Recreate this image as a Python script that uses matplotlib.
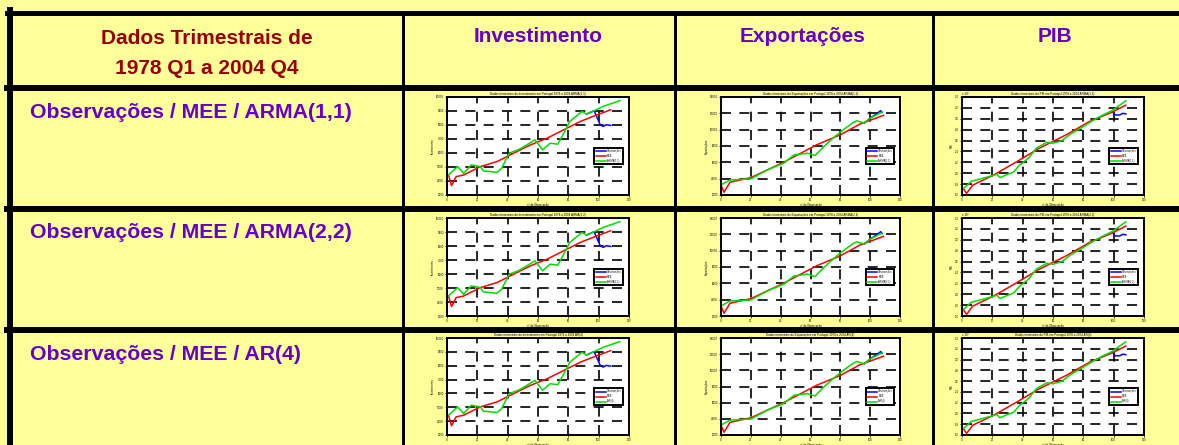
import matplotlib.pyplot as plt
from matplotlib.lines import Line2D

plt.rcParams['font.family'] = ['Liberation Sans', 'DejaVu Sans']

W, H = 1179, 445
BG = '#ffff99'
RED_TXT = '#990000'
PURPLE = '#6600cc'

header_left = ["Dados Trimestrais de", "1978 Q1 a 2004 Q4"]
col_titles = ["Investimento", "Exportações", "PIB"]
row_titles = ["Observações / MEE / ARMA(1,1)",
              "Observações / MEE / ARMA(2,2)",
              "Observações / MEE / AR(4)"]
models = ["ARMA(1,1)", "ARMA(2,2)", "AR(4)"]

# Investimento
inv_x_green = [1, 7, 11, 16, 22, 24, 33, 36, 41, 47, 52, 58, 63, 68, 73, 77, 81, 89, 92, 97, 103, 114]
inv_green = [4430, 5030, 4550, 5150, 5030, 4720, 4620, 4910, 5990, 6230, 6540, 6940, 6230, 6700,
             6630, 7420, 8260, 8970, 8780, 9020, 9330, 9740]
inv_x_red = [1, 3, 6, 11, 22, 33, 44, 55, 66, 77, 88, 99, 108]
inv_red = [4430, 3670, 4310, 4430, 5030, 5390, 5990, 6580, 7060, 7660, 8260, 8730, 9090]
inv_x_blue = [92, 97, 101, 103, 105, 108]
inv_blue = [8780, 9020, 8020, 7900, 8020, 7970]

# Exportações
exp_x_green = [0, 6, 20, 31, 42, 49, 53, 58, 63, 69, 75, 82, 88, 91, 96, 100, 108]
exp_green = [3230, 3840, 3970, 5070, 5890, 6910, 7000, 7120, 6830, 7940, 8960, 9990, 10800,
             11090, 10800, 11420, 12160]
exp_x_red = [0, 2, 6, 20, 42, 64, 80, 93, 109]
exp_red = [3230, 2330, 3560, 4130, 6010, 8140, 9370, 10680, 11750]
exp_x_blue = [96, 100, 104, 107, 108]
exp_blue = [10800, 11420, 11900, 12320, 12100]

# PIB (x 10^4)
pib_x_green = [1, 6, 14, 23, 25, 30, 34, 38, 44, 49, 56, 60, 66, 71, 80, 87, 93, 99, 108]
pib_green = [1.72, 1.85, 1.91, 1.98, 1.92, 1.98, 2.02, 2.15, 2.28, 2.46, 2.57, 2.55, 2.60,
             2.71, 2.86, 2.98, 3.07, 3.15, 3.33]
pib_x_red = [1, 3, 7, 21, 36, 51, 69, 84, 98, 108]
pib_red = [1.71, 1.63, 1.78, 1.97, 2.21, 2.46, 2.71, 2.95, 3.11, 3.25]
pib_x_blue = [99, 101, 104, 106, 108]
pib_blue = [3.14, 3.07, 3.07, 3.10, 3.09]

series = [
    (inv_x_blue, inv_blue, inv_x_red, inv_red, inv_x_green, inv_green, (3000, 10000, 1000), "Investimento"),
    (exp_x_blue, exp_blue, exp_x_red, exp_red, exp_x_green, exp_green, (2000, 14000, 2000), "Exportações"),
    (pib_x_blue, pib_blue, pib_x_red, pib_red, pib_x_green, pib_green, (1.6, 3.4, 0.2), "PIB"),
]

fig = plt.figure(figsize=(W / 100, H / 100), dpi=100, facecolor=BG)

# full-figure axes in pixel coordinates for the table frame
bg = fig.add_axes([0, 0, 1, 1])
bg.set_xlim(0, W)
bg.set_ylim(H, 0)
bg.axis('off')
bg.set_facecolor(BG)

px = 72 / 100  # one pixel in points
bg.add_line(Line2D([7, W], [12.5, 12.5], color='black', lw=5 * px))
bg.add_line(Line2D([10, 10], [10, H], color='black', lw=6 * px))
for y in [88, 209, 330]:
    bg.add_line(Line2D([7, W], [y, y], color='black', lw=6 * px))
for x in [402.5, 674.5, 932.5]:
    bg.add_line(Line2D([x, x], [12, H], color='black', lw=3 * px))

bg.text(207, 38, header_left[0], color=RED_TXT, fontsize=15, fontweight='bold', ha='center', va='center')
bg.text(207, 68, header_left[1], color=RED_TXT, fontsize=15, fontweight='bold', ha='center', va='center')
for cx, t in zip([538, 803, 1055], col_titles):
    bg.text(cx, 37, t, color=PURPLE, fontsize=15, fontweight='bold', ha='center', va='center')
for ry, t in zip([112, 233, 354], row_titles):
    bg.text(30, ry, t, color=PURPLE, fontsize=15.3, fontweight='bold', ha='left', va='center')

col_x = [(447, 629), (721, 900), (962, 1144)]
row_y = [(97, 195), (218, 316), (338, 435)]

for r, (y0, y1) in enumerate(row_y):
    for c, (x0, x1) in enumerate(col_x):
        xb, yb, xr, yr, xg, yg, (lo, hi, st), name = series[c]
        ax = fig.add_axes([x0 / W, 1 - y1 / H, (x1 - x0) / W, (y1 - y0) / H])
        ax.set_facecolor('white')
        ax.plot(xb, yb, color='#0000ff', lw=1.1, label='Observações')
        ax.plot(xr, yr, color='#ff0000', lw=1.1, label='MEE')
        ax.plot(xg, yg, color='#00dd00', lw=1.1, label=models[r])
        ax.set_xlim(0, 120)
        ax.set_ylim(lo, hi)
        ax.set_xticks(range(0, 121, 20))
        n = int(round((hi - lo) / st))
        ax.set_yticks([lo + i * st for i in range(n + 1)])
        ax.grid(True, color='black', lw=1.2, linestyle=(0, (6, 5)))
        ax.tick_params(labelsize=2, length=1.5, width=0.5, pad=0.8)
        for s in ax.spines.values():
            s.set_linewidth(1.4)
        ax.set_title(f"Dados trimestrais do {name} em Portugal 1978 a 2004 {models[r]}", fontsize=2.2, pad=1.5)
        ax.set_xlabel("nº da Observação", fontsize=2, labelpad=0.3)
        ax.set_ylabel(name, fontsize=2, labelpad=0.5)
        if c == 2:
            ax.text(0, 1.01, "x 10⁴", transform=ax.transAxes, fontsize=2.2, va='bottom')
        leg = ax.legend(loc='lower right', bbox_to_anchor=(0.975, 0.3), fontsize=1.8,
                        handlelength=4, framealpha=1, fancybox=False, borderpad=0.5,
                        labelspacing=0.4, handletextpad=0.6)
        leg.get_frame().set_edgecolor('black')
        leg.get_frame().set_linewidth(1.4)

fig.savefig('out.png', dpi=100, facecolor=BG)
